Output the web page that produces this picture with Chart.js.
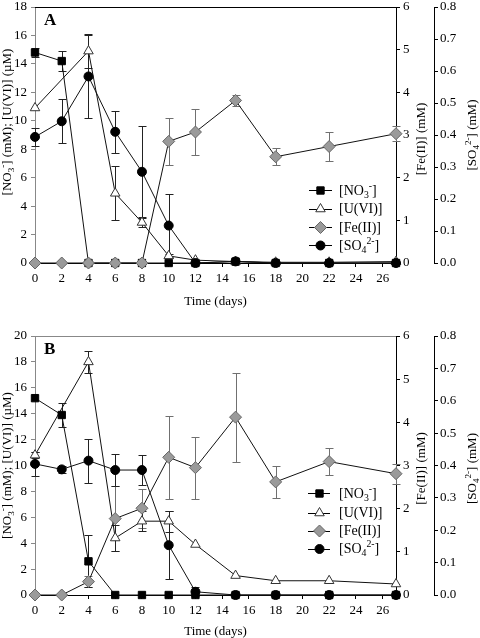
<!DOCTYPE html>
<html><head><meta charset="utf-8">
<script src="https://cdn.jsdelivr.net/npm/chart.js@4/dist/chart.umd.min.js"></script>
<style>
html,body{margin:0;padding:0;background:#fff;width:480px;height:638px;overflow:hidden}
canvas{position:absolute;left:0}
#ca{top:0}
#cb{top:310px}
</style></head><body>
<canvas id="ca" width="480" height="310"></canvas>
<canvas id="cb" width="480" height="328"></canvas>
<script>
// ---------- data ----------
const days = [0, 2, 4, 6, 8, 10, 12, 15, 18, 22, 27];
const xTickValues = [0, 2, 4, 6, 8, 10, 12, 14, 16, 18, 20, 22, 24, 26];
const leftTicksA = [0, 2, 4, 6, 8, 10, 12, 14, 16, 18];
const leftTicksB = [0, 2, 4, 6, 8, 10, 12, 14, 16, 18, 20];
const feTicks = [0, 1, 2, 3, 4, 5, 6];
const so4Ticks = [0, 0.1, 0.2, 0.3, 0.4, 0.5, 0.6, 0.7, 0.8];
const legendLabels = ['[NO_{3}^{-}]', '[U(VI)]', '[Fe(II)]', '[SO_{4}^{2-}]'];
const xTitle = 'Time (days)';
const leftTitle = '[NO_{3}^{-}] (mM); [U(VI)] (µM)';
const feTitle = '[Fe(II)] (mM)';
const so4Title = '[SO_{4}^{2-}] (mM)';

// Panel A
const nitrateA    = [14.8, 14.2, 0, 0, 0, 0, 0, 0.1, 0, 0, 0];
const nitrateErrA = [0.35, 0.7, 0, 0, 0, 0, 0, 0, 0, 0, 0];
const uraniumA    = [10.9, null, 14.9, 4.9, 2.85, 0.5, 0.2, 0.1, 0.05, 0.05, 0.1];
const uraniumErrA = [0, null, 1.2, 1.9, 0.3, 0.15, 0, 0, 0, 0, 0];
const ironA       = [0, 0, 0, 0, 0, 2.85, 3.07, 3.81, 2.49, 2.73, 3.03];
const ironErrA    = [0, 0, 0, 0, 0, 0.55, 0.55, 0.12, 0.2, 0.35, 0.17];
const sulfateA    = [0.394, 0.443, 0.583, 0.41, 0.285, 0.117, 0, 0.005, 0, 0, 0];
const sulfateErrA = [0.027, 0.069, 0.129, 0.065, 0.142, 0.098, 0, 0, 0, 0, 0];

// Panel B
const nitrateB    = [15.2, 13.9, 2.6, 0, 0, 0, 0, 0, 0, 0, 0];
const nitrateErrB = [0, 0.9, 2.0, 0, 0, 0, 0, 0, 0, 0, 0];
const uraniumB    = [10.8, null, 18.0, 4.4, 5.7, 5.7, 3.9, 1.5, 1.1, 1.1, 0.85];
const uraniumErrB = [0.25, null, 0.85, 1.0, 0.75, 0.8, 0, 0, 0, 0, 0];
const ironB       = [0, 0, 0.31, 1.77, 2.01, 3.19, 2.95, 4.12, 2.62, 3.09, 2.81];
const ironErrB    = [0, 0, 0.13, 0.75, 0.45, 0.96, 0.72, 1.03, 0.38, 0.31, 0.23];
const sulfateB    = [0.405, 0.388, 0.415, 0.386, 0.386, 0.154, 0.01, 0, 0, 0, 0];
const sulfateErrB = [0.036, 0.012, 0.068, 0.048, 0.046, 0.104, 0.014, 0, 0, 0, 0];

// ---------- helpers ----------
const FONT = "'Liberation Serif', 'Times New Roman', serif";
function parseRich(s) {
  const parts = []; let i = 0, buf = '';
  while (i < s.length) {
    if ((s[i] === '_' || s[i] === '^') && s[i + 1] === '{') {
      if (buf) { parts.push({ t: buf, k: 0 }); buf = ''; }
      const end = s.indexOf('}', i);
      parts.push({ t: s.slice(i + 2, end), k: s[i] === '_' ? 1 : 2 });
      i = end + 1;
    } else { buf += s[i]; i++; }
  }
  if (buf) parts.push({ t: buf, k: 0 });
  return parts;
}
function richWidth(ctx, parts, size) {
  let w = 0;
  parts.forEach(p => { ctx.font = (p.k ? size * 0.7 : size) + 'px ' + FONT; w += ctx.measureText(p.t).width; });
  return w;
}
function drawRich(ctx, str, x, y, size, align) {
  const parts = parseRich(str);
  const w = richWidth(ctx, parts, size);
  let cx = align === 'center' ? x - w / 2 : x;
  ctx.textBaseline = 'middle'; ctx.textAlign = 'left'; ctx.fillStyle = '#000';
  parts.forEach(p => {
    const fs = p.k ? size * 0.7 : size;
    ctx.font = fs + 'px ' + FONT;
    const dy = p.k === 1 ? size * 0.3 : p.k === 2 ? -size * 0.35 : 0;
    ctx.fillText(p.t, cx, y + dy);
    cx += ctx.measureText(p.t).width;
  });
}
function drawRotated(ctx, str, x, y, size) {
  ctx.save(); ctx.translate(x, y); ctx.rotate(-Math.PI / 2);
  drawRich(ctx, str, 0, 0, size, 'center'); ctx.restore();
}
const toPts = vals => days.map((d, i) => ({ x: d, y: vals[i] }));

const errorBarPlugin = {
  id: 'errbars',
  beforeDatasetsDraw(chart) {
    const ctx = chart.ctx;
    chart.data.datasets.forEach((ds, di) => {
      if (!ds.errors) return;
      const meta = chart.getDatasetMeta(di);
      const ys = chart.scales[ds.yAxisID];
      ctx.save(); ctx.strokeStyle = ds.errorColor; ctx.lineWidth = 1;
      ds.data.forEach((p, i) => {
        const e = ds.errors[i];
        if (p.y == null || !e) return;
        const x = Math.round(meta.data[i].x) + 0.5;
        const y1 = Math.round(ys.getPixelForValue(p.y - e)) + 0.5;
        const y2 = Math.round(ys.getPixelForValue(p.y + e)) + 0.5;
        ctx.beginPath();
        ctx.moveTo(x, y1); ctx.lineTo(x, y2);
        ctx.moveTo(x - 4, y1); ctx.lineTo(x + 4, y1);
        ctx.moveTo(x - 4, y2); ctx.lineTo(x + 4, y2);
        ctx.stroke();
      });
      ctx.restore();
    });
  }
};

const decorPlugin = {
  id: 'decor',
  afterDraw(chart) {
    const o = chart.options.plugins.decor;
    const ctx = chart.ctx, a = chart.chartArea;
    ctx.save();
    ctx.strokeStyle = o.topColor; ctx.lineWidth = 1;
    ctx.beginPath(); ctx.moveTo(a.left, Math.round(a.top) + 0.5); ctx.lineTo(a.right, Math.round(a.top) + 0.5); ctx.stroke();
    ctx.font = 'bold 17px ' + FONT; ctx.fillStyle = '#000'; ctx.textBaseline = 'alphabetic'; ctx.textAlign = 'left';
    ctx.fillText(o.letter, a.left + 9, a.top + o.letterDy);
    const mid = (a.top + a.bottom) / 2;
    drawRotated(ctx, leftTitle, 8, mid + o.leftDy, 13);
    drawRotated(ctx, feTitle, 422, mid + o.feDy, 13);
    drawRotated(ctx, so4Title, 473, mid + o.so4Dy, 13);
    const L = o.legend;
    chart.data.datasets.forEach(ds => {
      const j = ds.legendIndex, y = L.ys[j];
      ctx.strokeStyle = '#000'; ctx.lineWidth = 1;
      ctx.beginPath(); ctx.moveTo(L.x0, Math.round(y) + 0.5); ctx.lineTo(L.x1, Math.round(y) + 0.5); ctx.stroke();
      ctx.fillStyle = ds.pointBackgroundColor; ctx.strokeStyle = ds.pointBorderColor; ctx.lineWidth = 1;
      Chart.helpers.drawPoint(ctx, { pointStyle: ds.pointStyle, radius: ds.pointRadius, rotation: 0, borderWidth: 1 }, L.xm, y + 0.5);
      drawRich(ctx, legendLabels[j], L.xt, y + 1, 14, 'left');
    });
    ctx.restore();
  }
};

function makeDatasets(no3, no3e, u, ue, fe, fee, so4, so4e, nitrateOnTop) {
  return [
    { label: 'Fe(II)', legendIndex: 2, data: toPts(fe), errors: fee, errorColor: '#707070', yAxisID: 'fe', order: 0,
      borderColor: '#111', borderWidth: 1, pointStyle: 'rectRot', pointRadius: 6, pointBackgroundColor: '#9a9a9a', pointBorderColor: '#666' },
    { label: 'SO4', legendIndex: 3, data: toPts(so4), errors: so4e, errorColor: '#222', yAxisID: 'so4', order: nitrateOnTop ? 3 : 1,
      borderColor: '#111', borderWidth: 1, pointStyle: 'circle', pointRadius: 4.5, pointBackgroundColor: '#000', pointBorderColor: '#000' },
    { label: 'U(VI)', legendIndex: 1, data: toPts(u), errors: ue, errorColor: '#222', yAxisID: 'y', order: 2, spanGaps: true,
      borderColor: '#111', borderWidth: 1, pointStyle: 'triangle', pointRadius: 5.5, pointBackgroundColor: '#fff', pointBorderColor: '#333' },
    { label: 'NO3', legendIndex: 0, data: toPts(no3), errors: no3e, errorColor: '#222', yAxisID: 'y', order: nitrateOnTop ? 1 : 3,
      borderColor: '#111', borderWidth: 1, pointStyle: 'rect', pointRadius: 5.2, pointBackgroundColor: '#000', pointBorderColor: '#000' }
  ].map(d => Object.assign(d, { tension: 0, fill: false, clip: false, pointBorderWidth: 1, pointHoverRadius: d.pointRadius }));
}

function tickFont() { return { family: FONT, size: 13 }; }

function makeChart(id, p) {
  return new Chart(document.getElementById(id), {
    type: 'line',
    data: { datasets: p.datasets },
    plugins: [errorBarPlugin, decorPlugin],
    options: {
      responsive: false, animation: false, devicePixelRatio: 1,
      layout: { padding: { top: p.top, left: 0, right: 0, bottom: 0 } },
      plugins: {
        legend: { display: false }, tooltip: { enabled: false },
        decor: p.decor
      },
      scales: {
        x: {
          type: 'linear', min: 0, max: 27, position: 'bottom',
          afterBuildTicks: s => { s.ticks = xTickValues.map(v => ({ value: v })); },
          afterFit: s => { s.height = p.xHeight; s.paddingLeft = 0; s.paddingRight = 0; },
          ticks: { font: tickFont(), color: '#000', padding: 4, maxRotation: 0, autoSkip: false },
          grid: { drawOnChartArea: false, tickLength: 4, color: '#000' },
          border: { color: '#000', width: 1 },
          title: { display: true, text: xTitle, font: { family: FONT, size: 13, lineHeight: 1 }, color: '#000', padding: { top: 0, bottom: p.xTitlePad } }
        },
        y: {
          position: 'left', min: 0, max: p.leftMax,
          afterBuildTicks: s => { s.ticks = p.leftTicks.map(v => ({ value: v })); },
          afterFit: s => { s.width = 35; s.paddingTop = 0; s.paddingBottom = 0; },
          ticks: { font: tickFont(), color: '#000', padding: 4 },
          grid: { drawOnChartArea: false, tickLength: 4, color: '#888' },
          border: { color: '#888', width: 1 }
        },
        fe: {
          position: 'right', weight: 0, min: 0, max: 6,
          afterBuildTicks: s => { s.ticks = feTicks.map(v => ({ value: v })); },
          afterFit: s => { s.width = 38; s.paddingTop = 0; s.paddingBottom = 0; },
          ticks: { font: tickFont(), color: '#000', padding: 3 },
          grid: { drawOnChartArea: false, tickLength: 4, color: '#000' },
          border: { color: '#000', width: 1 }
        },
        so4: {
          position: 'right', weight: 1, min: 0, max: 0.8,
          afterBuildTicks: s => { s.ticks = so4Ticks.map(v => ({ value: v })); },
          afterFit: s => { s.width = 46; s.paddingTop = 0; s.paddingBottom = 0; },
          ticks: { font: tickFont(), color: '#000', padding: 2, callback: v => Number(v).toFixed(1) },
          grid: { drawOnChartArea: false, tickLength: 4, color: '#000' },
          border: { color: '#000', width: 1 }
        }
      }
    }
  });
}

makeChart('ca', {
  datasets: makeDatasets(nitrateA, nitrateErrA, uraniumA, uraniumErrA, ironA, ironErrA, sulfateA, sulfateErrA, false),
  top: 5, xHeight: 47, xTitlePad: 2, leftMax: 18, leftTicks: leftTicksA,
  decor: { topColor: '#000', letter: 'A', letterDy: 18, leftDy: -13, feDy: 4, so4Dy: 0,
    legend: { x0: 309, x1: 332, xm: 320.5, xt: 339, ys: [190, 208.5, 227, 245] } }
});
makeChart('cb', {
  datasets: makeDatasets(nitrateB, nitrateErrB, uraniumB, uraniumErrB, ironB, ironErrB, sulfateB, sulfateErrB, true),
  top: 26, xHeight: 43, xTitlePad: 0, leftMax: 20, leftTicks: leftTicksB,
  decor: { topColor: '#888', letter: 'B', letterDy: 18, leftDy: 0, feDy: 3, so4Dy: 3,
    legend: { x0: 308, x1: 330, xm: 319.5, xt: 339, ys: [183, 202.5, 220.5, 238.5] } }
});
</script>
</body></html>
